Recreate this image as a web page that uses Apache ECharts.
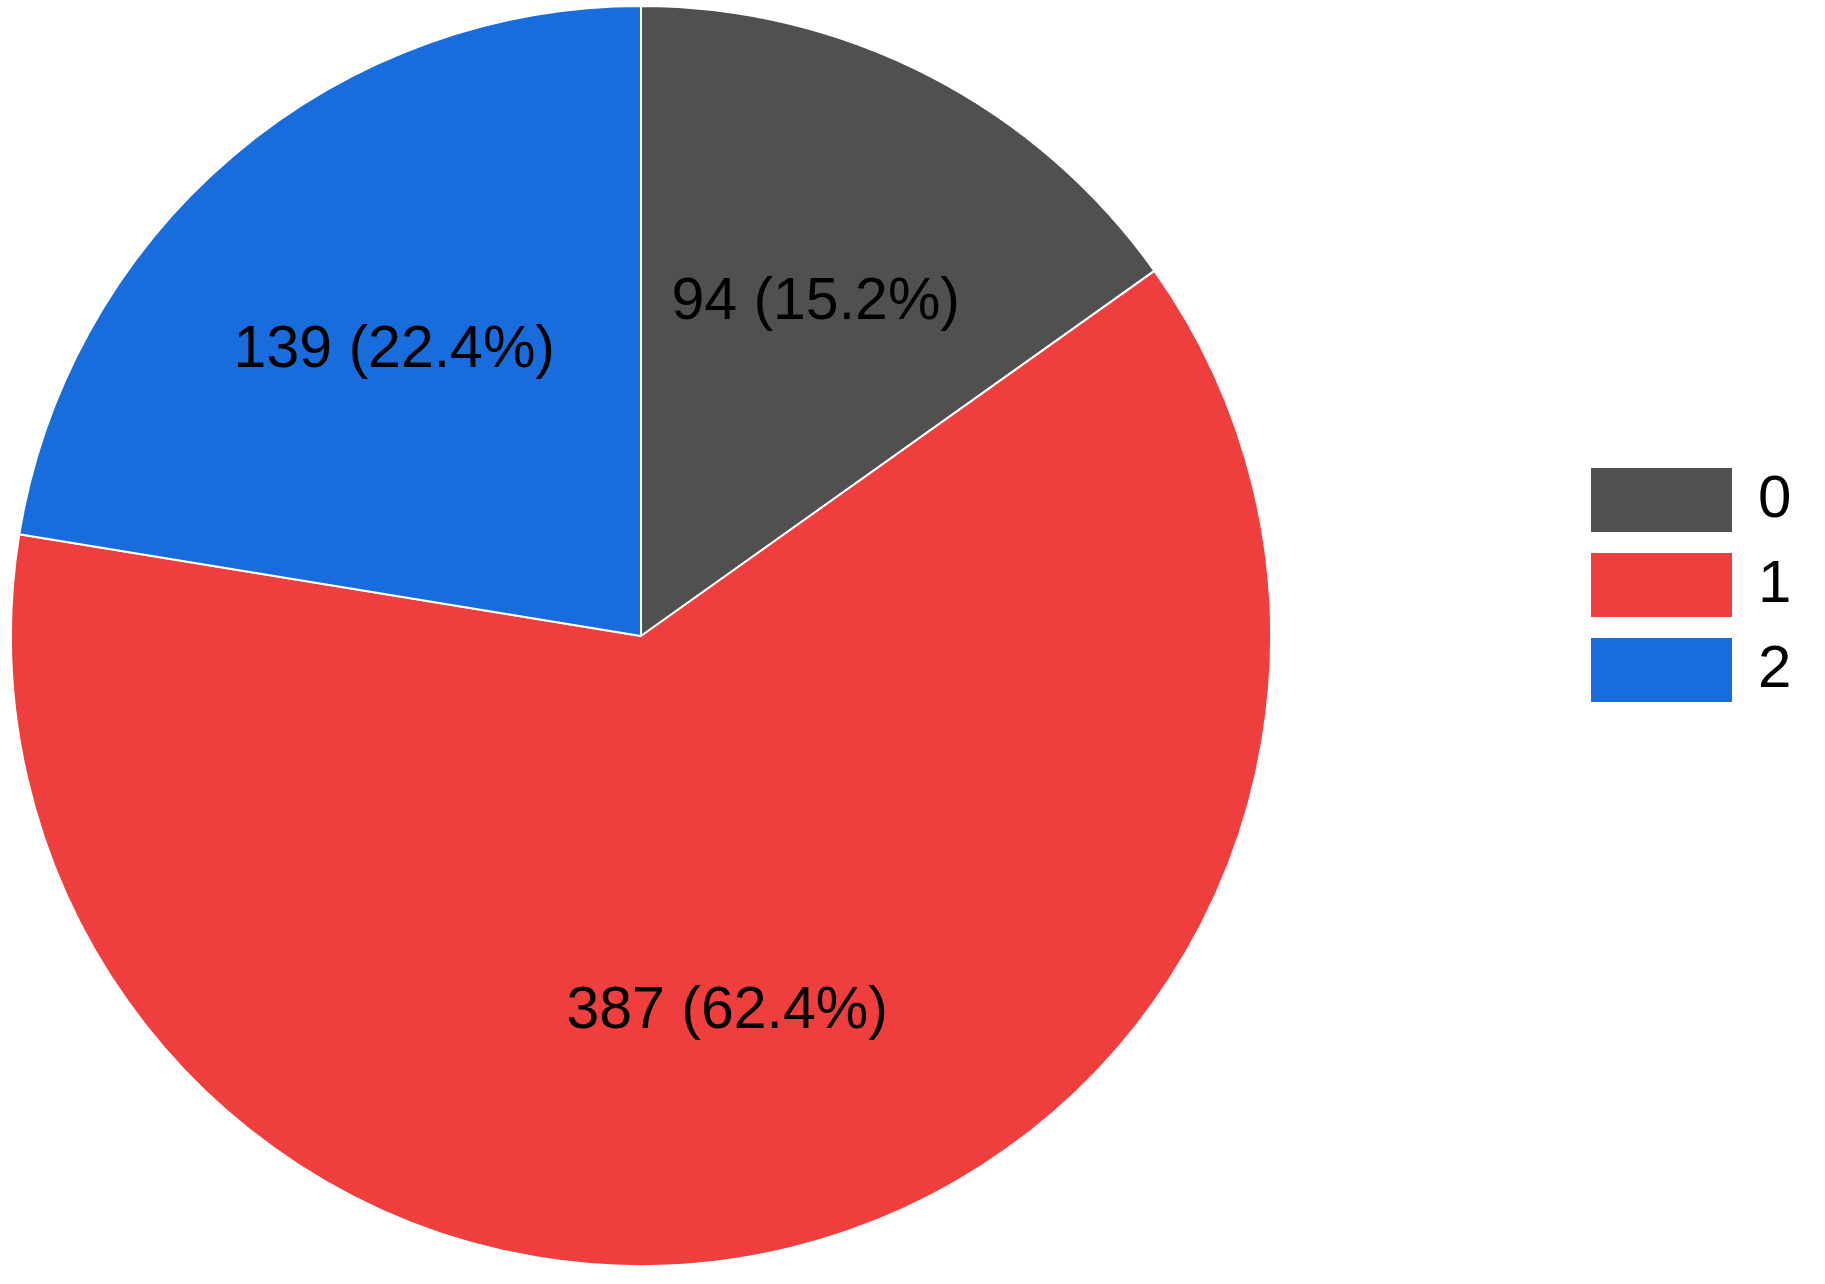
<!DOCTYPE html>
<html>
<head>
<meta charset="utf-8">
<script src="https://cdn.jsdelivr.net/npm/echarts@6/dist/echarts.min.js"></script>
<style>
  html, body { margin: 0; padding: 0; background: #fff; }
  #pieChart { width: 1825px; height: 1284px; }
</style>
</head>
<body>
<div id="pieChart"></div>
<script>
  // 类别和数值
  var categories = ['0', '1', '2']
  var counts = [94, 387, 139]
  var colors = ['#505050', '#EF3E3E', '#186CDC']

  var pieData = categories.map(function (name, i) {
    return { name: name, value: counts[i], itemStyle: { color: colors[i] } }
  })

  var cx = 641, cy = 636, r = 630
  var myChart = echarts.init(document.getElementById('pieChart'))
  myChart.setOption({
    animation: false,
    textStyle: { fontFamily: 'Liberation Sans, Arial, sans-serif' },
    legend: {
      data: categories,
      orient: 'vertical',
      left: 1584,
      top: 461,
      itemWidth: 143,
      itemHeight: 66,
      itemGap: 17,
      icon: 'rect',
      selectedMode: false,
      textStyle: { fontSize: 60, color: '#000', padding: [0, 0, 0, 20] }
    },
    series: [
      {
        // 饼图本体
        type: 'pie',
        center: [cx, cy],
        radius: r,
        startAngle: 90,
        clockwise: true,
        label: { show: false },
        labelLine: { show: false },
        itemStyle: { borderColor: '#fff', borderWidth: 2 },
        emphasis: { disabled: true },
        data: pieData
      },
      {
        // 透明层，只用来把标签放在 60% 半径处
        type: 'pie',
        center: [cx, cy],
        radius: r * 1.2,
        startAngle: 90,
        clockwise: true,
        silent: true,
        percentPrecision: 1,
        z: 3,
        itemStyle: { color: 'rgba(0,0,0,0)', borderWidth: 0 },
        label: {
          show: true,
          position: 'inside',
          formatter: '{c} ({d}%)',
          fontSize: 59,
          color: '#000',
          offset: [0, 5]
        },
        labelLine: { show: false },
        emphasis: { disabled: true },
        data: categories.map(function (name, i) { return { name: name, value: counts[i] } })
      }
    ]
  })
</script>
</body>
</html>
